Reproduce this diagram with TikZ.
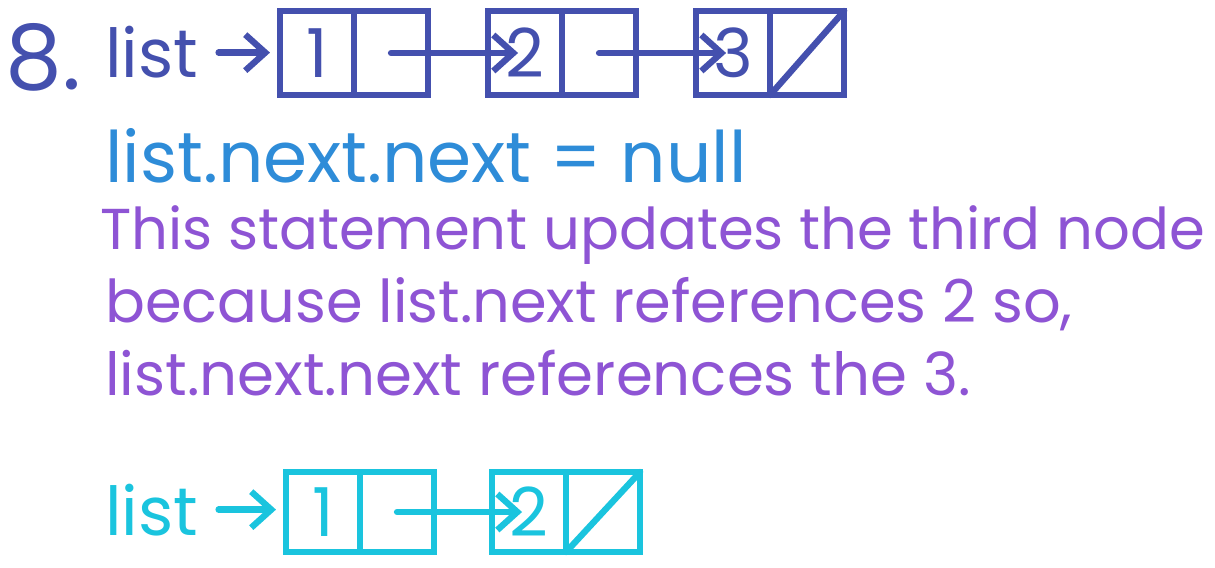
\documentclass[tikz,border=0pt]{standalone}
\usepackage{fontspec}
\setmainfont{Poppins}
\usetikzlibrary{arrows.meta, positioning}

\definecolor{inkblue}{RGB}{68,80,174}
\definecolor{skyblue}{RGB}{46,140,216}
\definecolor{notepurple}{RGB}{142,84,212}
\definecolor{notecyan}{RGB}{26,196,222}

\begin{document}
\begin{tikzpicture}[
        x=0.025cm, y=0.025cm,
        cell/.style={rectangle, draw, line width=4.5pt, minimum width=1.85cm, minimum height=2.1cm, outer sep=0pt, inner sep=0pt, font=\fontsize{48}{48}\selectfont},
        ptr/.style={-{Straight Barb[length=0.5cm, width=0.9cm]}, line width=4.5pt, line cap=round},
        slash/.style={line width=4.5pt, line cap=round},
        hand/.style={anchor=base west, inner sep=0pt, font=\fontsize{44}{44}\selectfont}
    ]
        \useasboundingbox (0,0) rectangle (1215,567);

        % First list
        \begin{scope}[inkblue]
        \node[hand, font=\fontsize{64}{64}\selectfont] (num) at (5,477) {8.};
        \node[hand, font=\fontsize{48}{48}\selectfont] (list) at (105,489) {list};
        \node[cell] (c1a) at (317,514) {1};
        \node[cell, right=0pt of c1a] (c1b) {};
        \node[cell, right=1.5cm of c1b] (c2a) {2};
        \node[cell, right=0pt of c2a] (c2b) {};
        \node[cell, right=1.5cm of c2b] (c3a) {3};
        \node[cell, right=0pt of c3a] (c3b) {};

        \draw[ptr] ([xshift=0.5cm]list.east) -- ([xshift=-0.25cm]list.east -| c1a.west);
        \draw[ptr] (c1b.center) -- ([xshift=0.75cm]c2a.west);
        \draw[ptr] (c2b.center) -- ([xshift=0.75cm]c3a.west);
        \draw[slash] (c3b.south west) -- (c3b.north east);
        \end{scope}

        % Statement and explanation
        \node[hand, text=skyblue, font=\fontsize{50.5}{50.5}\selectfont] (stmt) at (105,384) {list.next.next = null};
        \node[hand, text=notepurple, font=\fontsize{41}{41}\selectfont] (lineA) at (100,317) {This statement updates the third node};
        \node[hand, text=notepurple, font=\fontsize{42}{42}\selectfont] (lineB) at (105,245) {because list.next references 2 so,};
        \node[hand, text=notepurple, font=\fontsize{42.3}{42.3}\selectfont] (lineC) at (105,172) {list.next.next references the 3.};

        % Resulting list
        \begin{scope}[notecyan]
        \node[hand, font=\fontsize{48}{48}\selectfont] (list2) at (105,32) {list};
        \node[cell, minimum height=2cm] (d1a) at (323,55) {1};
        \node[cell, minimum height=2cm, right=0pt of d1a] (d1b) {};
        \node[cell, minimum height=2cm, right=1.45cm of d1b] (d2a) {2};
        \node[cell, minimum height=2cm, right=0pt of d2a] (d2b) {};

        \draw[ptr] ([xshift=0.5cm]list2.east) -- ([xshift=-0.25cm]list2.east -| d1a.west);
        \draw[ptr] (d1b.center) -- ([xshift=0.75cm]d2a.west);
        \draw[slash] (d2b.south west) -- (d2b.north east);
        \end{scope}

    \end{tikzpicture}
\end{document}
